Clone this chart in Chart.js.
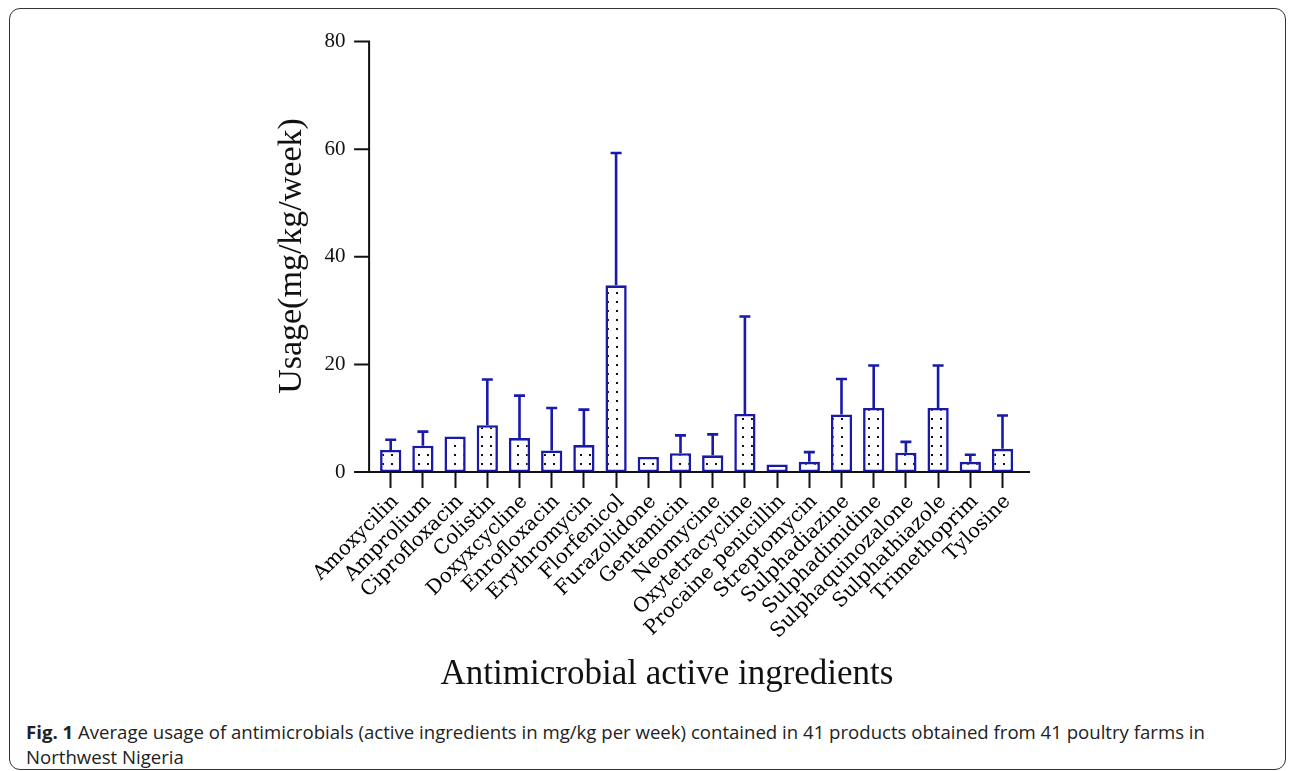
<!DOCTYPE html>
<html><head><meta charset="utf-8">
<script src="https://cdn.jsdelivr.net/npm/chart.js@4.4.0/dist/chart.umd.min.js"></script>
<style>
html,body{margin:0;padding:0;background:#fff;}
body{width:1295px;height:771px;position:relative;overflow:hidden;}
#frame{position:absolute;left:9px;top:8px;width:1277px;height:762px;border:1.5px solid #333;border-radius:11px;box-sizing:border-box;}
#wrap{position:absolute;left:0;top:0;width:1295px;height:705px;}
#cap{position:absolute;left:26px;top:719px;font-family:"Open Sans",sans-serif;font-size:18.6px;line-height:25px;color:#222;white-space:nowrap;}
#cap b{font-weight:700;}
</style></head>
<body>
<div id="frame"></div>
<div id="wrap"><canvas id="c"></canvas></div>
<div id="cap"><b>Fig. 1</b> Average usage of antimicrobials (active ingredients in mg/kg per week) contained in 41 products obtained from 41 poultry farms in<br>Northwest Nigeria</div>
<script>
const categories = ["Amoxycilin","Amprolium","Ciprofloxacin","Colistin","Doxyxcycline","Enrofloxacin","Erythromycin","Florfenicol","Furazolidone","Gentamicin","Neomycine","Oxytetracycline","Procaine penicillin","Streptomycin","Sulphadiazine","Sulphadimidine","Sulphaquinozalone","Sulphathiazole","Trimethoprim","Tylosine"];
const meanUsage = [4.1, 4.9, 6.6, 8.7, 6.3, 4.0, 5.0, 34.7, 2.8, 3.5, 3.1, 10.8, 1.4, 1.9, 10.7, 11.9, 3.6, 11.9, 1.9, 4.3];
const errorTop = [6.0, 7.5, null, 17.2, 14.2, 11.9, 11.6, 59.3, null, 6.8, 7.0, 28.9, null, 3.7, 17.3, 19.8, 5.6, 19.8, 3.2, 10.5];
const yTicks = [0, 20, 40, 60, 80];
const xTitle = 'Antimicrobial active ingredients';
const yTitle = 'Usage(mg/kg/week)';

const BLUE = '#1a1aaa';
const AXIS = '#111';
const SERIF = "'Liberation Serif', 'Times New Roman', serif";
const LABELSERIF = "'DejaVu Serif', 'Liberation Serif', serif";

function makePattern(){
  const c = document.createElement('canvas'); c.width = 9; c.height = 9;
  const g = c.getContext('2d');
  g.fillStyle = '#fff'; g.fillRect(0,0,9,9);
  g.fillStyle = '#111'; g.fillRect(4,4,2,2);
  return g.createPattern(c, 'repeat');
}

const axesAndErrors = {
  id: 'axesAndErrors',
  afterDatasetsDraw(chart){
    const ctx = chart.ctx, ca = chart.chartArea;
    const ys = chart.scales.y;
    const meta = chart.getDatasetMeta(0);
    ctx.save();
    ctx.strokeStyle = BLUE; ctx.lineWidth = 2.6; ctx.lineCap = 'butt';
    meta.data.forEach((bar, i) => {
      const t = errorTop[i];
      if (t == null) return;
      const yb = ys.getPixelForValue(meanUsage[i]);
      const yt = ys.getPixelForValue(t);
      ctx.beginPath();
      ctx.moveTo(bar.x, yb); ctx.lineTo(bar.x, yt);
      ctx.moveTo(bar.x - 5.5, yt); ctx.lineTo(bar.x + 5.5, yt);
      ctx.stroke();
    });
    const x0 = ca.left - 5.5;
    ctx.strokeStyle = AXIS; ctx.lineWidth = 2;
    ctx.beginPath();
    ctx.moveTo(x0, ys.getPixelForValue(80) - 1); ctx.lineTo(x0, ca.bottom + 1);
    ctx.moveTo(x0 - 1, ca.bottom); ctx.lineTo(1030, ca.bottom);
    yTicks.forEach(v => {
      const y = ys.getPixelForValue(v);
      ctx.moveTo(x0 - 15, y); ctx.lineTo(x0, y);
    });
    ctx.stroke();
    ctx.fillStyle = '#111';
    ctx.textAlign = 'center'; ctx.textBaseline = 'middle';
    ctx.font = "35px " + SERIF;
    ctx.fillText(xTitle, 667, 675);
    ctx.translate(292, 256);
    ctx.rotate(-Math.PI / 2);
    ctx.font = "34px " + SERIF;
    ctx.fillText(yTitle, 0, 0);
    ctx.restore();
  }
};

new Chart(document.getElementById('c'), {
  type: 'bar',
  data: {
    labels: categories,
    datasets: [{
      data: meanUsage,
      backgroundColor: makePattern(),
      borderColor: BLUE,
      borderWidth: 2.6,
      borderSkipped: false,
      barPercentage: 0.66,
      categoryPercentage: 1
    }]
  },
  options: {
    responsive: true,
    maintainAspectRatio: false,
    animation: false,
    events: [],
    layout: { padding: { left: 260, right: 276.4, top: 33, bottom: 0 } },
    plugins: { legend: { display: false }, tooltip: { enabled: false } },
    scales: {
      x: {
        offset: true,
        grid: { display: true, drawOnChartArea: false, offset: false, tickLength: 16, tickWidth: 2, tickColor: AXIS },
        border: { display: false },
        ticks: { minRotation: 45, maxRotation: 45, autoSkip: false, padding: 2, labelOffset: 5,
                 color: '#000', font: { family: LABELSERIF, size: 20 } },
        title: { display: false },
        afterFit(s){ s.height = 705 - 472; }
      },
      y: {
        min: 0, max: 80,
        grid: { display: false, drawTicks: false },
        border: { display: false },
        afterBuildTicks(s){ s.ticks = yTicks.map(v => ({ value: v })); },
        ticks: { stepSize: 20, padding: 29, color: '#111', font: { family: SERIF, size: 21 } },
        title: { display: false },
        afterFit(s){ s.width = 374.6 - 260; }
      }
    }
  },
  plugins: [axesAndErrors]
});
</script>
</body></html>
